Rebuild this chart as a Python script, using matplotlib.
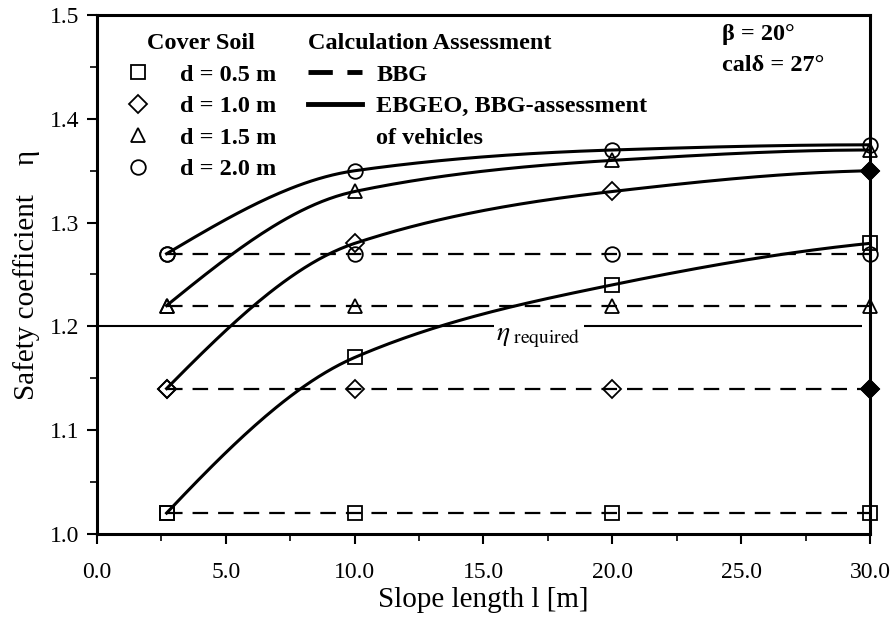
import numpy as np
import matplotlib
matplotlib.use("Agg")
import matplotlib.pyplot as plt
from matplotlib.lines import Line2D
from matplotlib.ticker import MultipleLocator, FormatStrFormatter

plt.rcParams['font.family'] = ['Liberation Serif', 'DejaVu Serif']
plt.rcParams['mathtext.fontset'] = 'stix'

# slope length l [m]
slope_len = [2.7, 10.0, 20.0, 30.0]
cover_labels = ['d = 0.5 m', 'd = 1.0 m', 'd = 1.5 m', 'd = 2.0 m']
markers = ['s', 'D', '^', 'o']

# safety coefficient, EBGEO / BBG-assessment of vehicles (solid)
ebgeo_05 = [1.02, 1.17, 1.24, 1.28]
ebgeo_10 = [1.14, 1.28, 1.33, 1.35]
ebgeo_15 = [1.22, 1.33, 1.36, 1.37]
ebgeo_20 = [1.27, 1.35, 1.37, 1.375]

# safety coefficient, BBG (dashed)
bbg_05 = [1.02, 1.02, 1.02, 1.02]
bbg_10 = [1.14, 1.14, 1.14, 1.14]
bbg_15 = [1.22, 1.22, 1.22, 1.22]
bbg_20 = [1.27, 1.27, 1.27, 1.27]

eta_required = 1.2


def pchip(x, y, n=200):
    # monotone cubic through the points, only for drawing the smooth curve
    x, y = np.asarray(x, float), np.asarray(y, float)
    k = len(x)
    h = np.diff(x)
    dl = np.diff(y) / h
    m = np.zeros(k)
    for i in range(1, k - 1):
        if dl[i - 1] * dl[i] > 0:
            w1 = 2 * h[i] + h[i - 1]
            w2 = h[i] + 2 * h[i - 1]
            m[i] = (w1 + w2) / (w1 / dl[i - 1] + w2 / dl[i])

    def end(h0, h1, d0, d1):
        v = ((2 * h0 + h1) * d0 - h0 * d1) / (h0 + h1)
        if np.sign(v) != np.sign(d0):
            return 0.0
        if np.sign(d0) != np.sign(d1) and abs(v) > abs(3 * d0):
            return 3 * d0
        return v
    m[0] = end(h[0], h[1], dl[0], dl[1])
    m[-1] = end(h[-1], h[-2], dl[-1], dl[-2])
    xs = np.linspace(x[0], x[-1], n)
    i = np.clip(np.searchsorted(x, xs) - 1, 0, k - 2)
    t = (xs - x[i]) / h[i]
    h00 = 2 * t ** 3 - 3 * t ** 2 + 1
    h10 = t ** 3 - 2 * t ** 2 + t
    h01 = -2 * t ** 3 + 3 * t ** 2
    h11 = t ** 3 - t ** 2
    return xs, h00 * y[i] + h10 * h[i] * m[i] + h01 * y[i + 1] + h11 * h[i] * m[i + 1]


fig = plt.figure(figsize=(8.9, 6.31), dpi=100)
ax = fig.add_axes([0.109, 0.154, 0.8685, 0.822])


def marker_style(m):
    return dict(ls='none', marker=m, ms=9.5 if m == 'D' else 10.5,
                mfc='none', mec='black', mew=1.3, clip_on=False, zorder=4)


solid = [ebgeo_05, ebgeo_10, ebgeo_15, ebgeo_20]
dashed = [bbg_05, bbg_10, bbg_15, bbg_20]
for ys, m in zip(solid, markers):
    xs, sy = pchip(slope_len, ys)
    ax.plot(xs, sy, color='black', lw=2.2, zorder=3)
    ax.plot(slope_len, ys, **marker_style(m))
for ys, m in zip(dashed, markers):
    ax.plot(slope_len, ys, color='black', lw=1.6, dashes=(7, 4.5), zorder=2)
    ax.plot(slope_len, ys, **marker_style(m))
# the diamonds on the right edge print solid black
for ys in (ebgeo_10, bbg_10):
    ax.plot(slope_len[-1:], ys[-1:], **dict(marker_style('D'), mfc='black'))

# eta required
ax.hlines(eta_required, 0, 29.7, color='black', lw=1.5, zorder=1)
ax.text(15.5, eta_required - 0.011, r'$\eta_{\ \mathrm{required}}$', fontsize=20,
        ha='left', va='center', zorder=2.5,
        bbox=dict(facecolor='white', edgecolor='none', pad=2))

ax.set_xlim(0, 30)
ax.set_ylim(1.0, 1.5)
ax.xaxis.set_major_locator(MultipleLocator(5))
ax.xaxis.set_minor_locator(MultipleLocator(2.5))
ax.yaxis.set_major_locator(MultipleLocator(0.1))
ax.yaxis.set_minor_locator(MultipleLocator(0.05))
ax.xaxis.set_major_formatter(FormatStrFormatter('%.1f'))
ax.yaxis.set_major_formatter(FormatStrFormatter('%.1f'))
ax.tick_params(which='major', direction='out', length=7, width=1.5, labelsize=17, pad=13)
ax.tick_params(which='minor', direction='out', length=5, width=1.2)
ax.tick_params(axis='y', which='major', pad=6)
for s in ax.spines.values():
    s.set_linewidth(2.2)

ax.set_xlabel('Slope length l [m]', fontsize=21, labelpad=3)
ax.set_ylabel('Safety coefficient    \u03b7', fontsize=21, labelpad=7)

# legends
leg_font = dict(size=17.5, weight='bold')
soil_handles = [Line2D([], [], **dict(marker_style(m), clip_on=True)) for m in markers]
leg1 = ax.legend(soil_handles, cover_labels, title='Cover Soil', loc='upper left',
                 bbox_to_anchor=(0.037, 0.965), frameon=False, prop=leg_font,
                 title_fontproperties=leg_font, handlelength=1.0, handletextpad=1.25,
                 labelspacing=0.39, borderpad=0, borderaxespad=0)
ax.add_artist(leg1)

calc_handles = [Line2D([], [], color='black', lw=3.5, dashes=(5, 3)),
                Line2D([], [], color='black', lw=3.5),
                Line2D([], [], ls='none')]
ax.legend(calc_handles, ['BBG', 'EBGEO, BBG-assessment', 'of vehicles'],
          title='Calculation Assessment', loc='upper left',
          bbox_to_anchor=(0.273, 0.965), frameon=False, prop=leg_font,
          title_fontproperties=leg_font, handlelength=2.2, handletextpad=0.6,
          labelspacing=0.39, borderpad=0, borderaxespad=0, alignment='left')

ax.text(0.809, 0.962, '\u03b2 = 20\u00b0', transform=ax.transAxes, fontsize=17.5,
        fontweight='bold', ha='left', va='center')
ax.text(0.809, 0.902, 'cal\u03b4 = 27\u00b0', transform=ax.transAxes, fontsize=17.5,
        fontweight='bold', ha='left', va='center')

fig.savefig('out.png', dpi=100)
